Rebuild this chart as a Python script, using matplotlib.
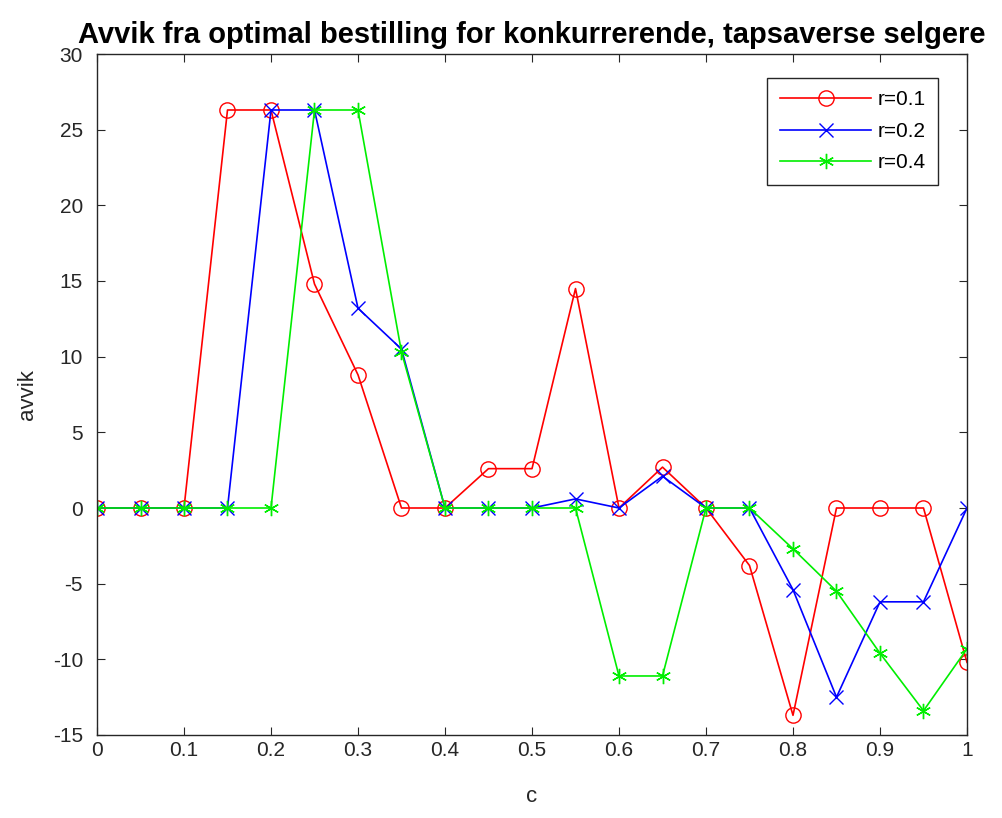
import matplotlib.pyplot as plt
import numpy as np

c = [0, 0.05, 0.1, 0.15, 0.2, 0.25, 0.3, 0.35, 0.4, 0.45, 0.5,
     0.55, 0.6, 0.65, 0.7, 0.75, 0.8, 0.85, 0.9, 0.95, 1.0]
avvik_r01 = [0, 0, 0, 26.3, 26.3, 14.8, 8.8, 0, 0, 2.6, 2.6,
             14.5, 0, 2.7, 0, -3.8, -13.7, 0, 0, 0, -10.2]
avvik_r02 = [0, 0, 0, 0, 26.3, 26.3, 13.2, 10.5, 0, 0, 0,
             0.6, 0, 2.1, 0, 0, -5.4, -12.5, -6.2, -6.2, 0]
avvik_r04 = [0, 0, 0, 0, 0, 26.3, 26.3, 10.3, 0, 0, 0,
             0, -11.1, -11.1, 0, 0, -2.7, -5.5, -9.6, -13.4, -9.3]

plt.rcParams['font.family'] = ['Liberation Sans', 'DejaVu Sans']
plt.rcParams['axes.unicode_minus'] = False

fig = plt.figure(figsize=(10.03, 8.18), dpi=100)
ax = fig.add_axes([97 / 1003, 1 - 735 / 818, (967 - 97) / 1003, (735 - 54) / 818])

ax.plot(c, avvik_r01, color='red', marker='o', markersize=11, markerfacecolor='none',
        markeredgewidth=1.0, linewidth=1.2, label='r=0.1')
ax.plot(c, avvik_r02, color='blue', marker='x', markersize=10,
        markeredgewidth=1.0, linewidth=1.2, label='r=0.2')
ax.plot(c, avvik_r04, color='#00ee00', marker=(6, 2, 0), markersize=11,
        markeredgewidth=1.0, linewidth=1.2, label='r=0.4')

ax.set_xlim(0, 1)
ax.set_ylim(-15, 30)
ax.set_xticks(np.arange(0, 1.01, 0.1))
ax.set_xticklabels(['0', '0.1', '0.2', '0.3', '0.4', '0.5', '0.6', '0.7', '0.8', '0.9', '1'])
ax.set_yticks(np.arange(-15, 31, 5))
ax.tick_params(direction='in', top=True, right=True, labelsize=15, colors='#262626',
               length=6)
ax.tick_params(axis='x', pad=4)
ax.tick_params(axis='y', pad=10)
for s in ax.spines.values():
    s.set_color('#262626')
    s.set_linewidth(1.0)

ax.set_xlabel('c', fontsize=16, color='#262626', labelpad=19)
ax.set_ylabel('avvik', fontsize=16, color='#262626', labelpad=11)
ax.set_title('Avvik fra optimal bestilling for konkurrerende, tapsaverse selgere',
             fontsize=21, fontweight='bold', pad=8)

# legend box sits in the upper right, a bit inside the axes
leg = ax.legend(loc='upper right', bbox_to_anchor=(0.967, 0.965), fontsize=15,
                fancybox=False, edgecolor='#262626', framealpha=1,
                handlelength=4.4, borderpad=0.6, labelspacing=0.6, handletextpad=0.3,
                borderaxespad=0)
leg.get_frame().set_linewidth(1.0)

fig.savefig('out.png', dpi=100)
